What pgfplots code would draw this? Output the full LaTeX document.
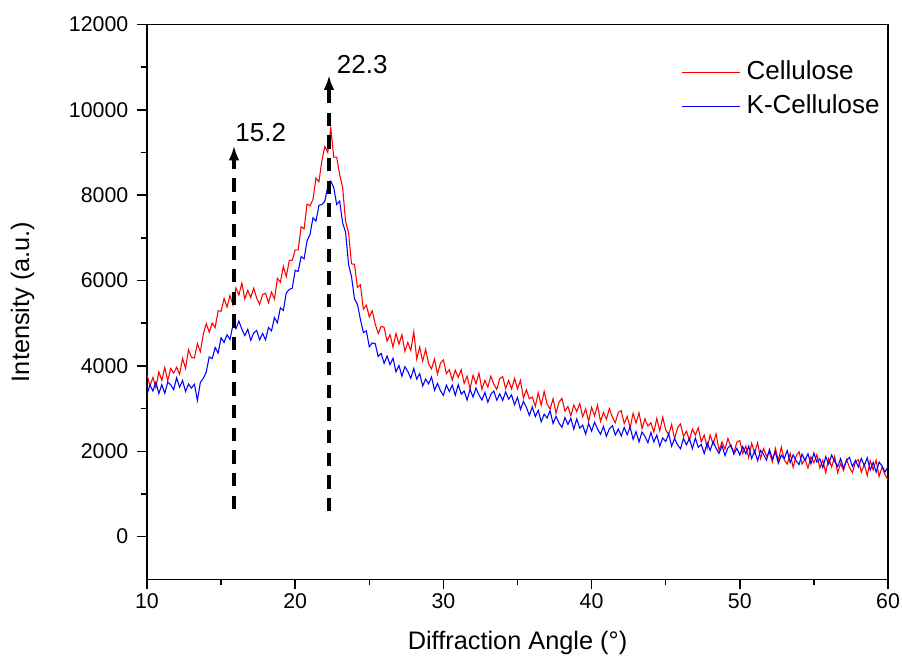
\documentclass[border=0pt]{standalone}
\usepackage{fontspec}
\setmainfont{Liberation Sans}
\usepackage{pgfplots}
\pgfplotsset{compat=1.18}
\usepackage{pgfplotstable}
\usetikzlibrary{arrows.meta}
\pgfplotstableread{
x c k
10.0 3800 3330
10.2 3530 3556
10.4 3730 3412
10.6 3490 3618
10.8 3860 3354
11.0 3660 3560
11.2 3960 3356
11.4 3650 3622
11.6 3940 3558
11.8 3830 3444
12.0 3970 3720
12.2 3803 3500
12.4 4177 3660
12.6 3940 3400
12.8 4380 3575
13.0 4200 3480
13.2 4185 3570
13.4 4520 3190
13.6 4333 3613
13.8 4747 3707
14.0 4990 3860
14.2 4790 4210
14.4 5000 4170
14.6 4900 4430
14.8 5290 4300
15.0 5280 4660
15.2 5580 4550
15.4 5380 4730
15.6 5650 4620
15.8 5430 4960
16.0 5830 4870
16.2 5660 5050
16.4 5940 4860
16.6 5570 4710
16.8 5770 4860
17.0 5600 4600
17.2 5820 4770
17.4 5590 4830
17.6 5440 4610
17.8 5670 4760
18.0 5700 4610
18.2 5480 4900
18.4 5730 4820
18.6 5570 5130
18.8 6050 5010
19.0 5960 5360
19.2 6330 5300
19.4 6090 5710
19.6 6470 5790
19.8 6470 5820
20.0 6720 6240
20.2 6720 6210
20.4 7260 6560
20.6 7210 6510
20.8 7790 6930
21.0 7750 7080
21.2 7900 7470
21.4 8400 7390
21.6 8310 7760
21.8 8810 7780
22.0 9140 7860
22.2 9000 8210
22.4 9580 8330
22.6 8890 8180
22.8 8890 7780
23.0 8480 7860
23.2 8180 7350
23.4 7380 7130
23.6 7120 6380
23.8 6390 6090
24.0 6380 5570
24.2 5840 5440
24.4 5900 5090
24.6 5330 4780
24.8 5425 4820
25.0 5150 4450
25.2 5290 4540
25.4 4980 4520
25.6 4760 4220
25.8 4930 4290
26.0 4900 4060
26.2 4580 4230
26.4 4730 4030
26.6 4440 4180
26.8 4760 3860
27.0 4510 4010
27.2 4730 3760
27.4 4340 3980
27.6 4550 3870
27.8 4360 3710
28.0 4800 3940
28.2 4160 3690
28.4 4440 3820
28.6 4110 3530
28.8 4390 3690
29.0 4050 3580
29.2 3930 3740
29.4 4160 3430
29.6 3810 3590
29.8 4060 3420
30.0 4140 3310
30.2 3820 3550
30.4 3910 3400
30.6 3670 3550
30.8 3900 3310
31.0 3730 3560
31.2 3910 3340
31.4 3590 3410
31.6 3760 3200
31.8 3460 3450
32.0 3780 3270
32.2 3580 3480
32.4 3830 3320
32.6 3450 3200
32.8 3660 3380
33.0 3500 3150
33.2 3760 3336
33.4 3570 3412
33.6 3450 3198
33.8 3700 3344
34.0 3750 3190
34.2 3470 3390
34.4 3660 3220
34.6 3460 3320
34.8 3710 3090
35.0 3460 3260
35.2 3660 2980
35.4 3250 3170
35.6 3440 3030
35.8 3230 2840
36.0 3270 3040
36.2 3050 2810
36.4 3370 2960
36.6 3080 2690
36.8 3400 2870
37.0 3100 2780
37.2 2990 2950
37.4 3230 2650
37.6 2890 2820
37.8 3150 2660
38.0 3240 2560
38.2 2940 2790
38.4 3050 2630
38.6 2830 2770
38.8 3080 2520
39.0 2930 2760
39.2 3120 2540
39.4 2810 2610
39.6 2990 2400
39.8 2700 2650
40.0 3030 2470
40.2 2830 2680
40.4 3080 2520
40.6 2700 2400
40.8 2910 2580
41.0 2750 2350
41.2 3000 2530
41.4 2800 2600
41.6 2670 2380
41.8 2910 2520
42.0 2950 2360
42.2 2650 2560
42.4 2820 2390
42.6 2550 2570
42.8 2890 2280
43.0 2660 2460
43.2 2900 2220
43.4 2530 2450
43.6 2760 2350
43.8 2590 2200
44.0 2670 2440
44.2 2450 2220
44.4 2770 2380
44.6 2480 2120
44.8 2800 2310
45.0 2500 2230
45.2 2390 2410
45.4 2630 2120
45.6 2290 2300
45.8 2550 2150
46.0 2640 2060
46.2 2350 2300
46.4 2470 2150
46.6 2260 2300
46.8 2520 2060
47.0 2380 2310
47.2 2550 2090
47.4 2220 2160
47.6 2380 1950
47.8 2070 2200
48.0 2380 2020
48.2 2170 2230
48.4 2410 2070
48.6 2020 1950
48.8 2220 2130
49.0 2050 1900
49.2 2300 2080
49.4 2100 2150
49.6 1970 1930
49.8 2210 2070
50.0 2250 1910
50.2 1950 2110
50.4 2120 1940
50.6 1850 2120
50.8 2190 1830
51.0 1960 2010
51.2 2200 1780
51.4 1830 2020
51.6 2060 1930
51.8 1890 1790
52.0 1970 2040
52.2 1750 1820
52.4 2070 1980
52.6 1780 1720
52.8 2100 1910
53.0 1800 1830
53.2 1700 2016
53.4 1950 1732
53.6 1620 1918
53.8 1890 1774
54.0 1990 1690
54.2 1700 1934
54.4 1820 1788
54.6 1610 1942
54.8 1870 1706
55.0 1730 1960
55.2 1920 1746
55.4 1610 1822
55.6 1790 1618
55.8 1500 1874
56.0 1830 1700
56.2 1630 1914
56.4 1880 1758
56.6 1500 1642
56.8 1710 1826
57.0 1550 1600
57.2 1810 1784
57.4 1620 1858
57.6 1500 1642
57.8 1750 1786
58.0 1800 1630
58.2 1510 1832
58.4 1690 1664
58.6 1430 1846
58.8 1780 1558
59.0 1560 1740
59.2 1790 1508
59.4 1410 1746
59.6 1630 1654
59.8 1450 1512
60.0 1330 1640
}\xrd
\newcommand{\tickfont}{\fontsize{16}{19}\selectfont}
\newcommand{\labfont}{\fontsize{19}{22}\selectfont}
\newcommand{\legfont}{\fontsize{19.5}{22}\selectfont}
\begin{document}
\begin{tikzpicture}
\begin{axis}[
  scale only axis,
  width=555.75pt, height=416.2pt,
  xmin=10, xmax=60, ymin=-1000, ymax=12000,
  xtick={10,20,30,40,50,60},
  ytick={0,2000,4000,6000,8000,10000,12000},
  scaled ticks=false,
  minor x tick num=1, minor y tick num=1,
  tick align=outside, xtick pos=left, ytick pos=left,
  major tick length=7.5pt, minor tick length=4.5pt,
  axis line style={line width=1.1pt},
  every tick/.style={black, line width=1.1pt},
  /pgf/number format/1000 sep={},
  /pgf/number format/assume math mode=true,
  tick label style={font=\tickfont},
  yticklabel style={xshift=-3pt},
  xlabel={Diffraction Angle (°)},
  ylabel={Intensity (a.u.)},
  xlabel style={font=\labfont, at={(axis description cs:0.5,-0.114)}, anchor=center},
  ylabel style={font=\labfont, at={(axis description cs:-0.168,0.5)}, anchor=center},
  legend style={at={(axis description cs:0.7206,0.9346)}, anchor=north west,
    draw=none, fill=none, inner sep=0pt, outer sep=0pt,
    column sep=4.5pt, row sep=7.5pt, font=\legfont,
    nodes={inner sep=0pt, text height=14pt, text depth=4pt}},
  legend cell align=left,
  legend image code/.code={\draw[#1, line width=0.8pt] (0pt,0pt) -- (44pt,0pt);},
]
\addplot[red, line width=0.8pt] table[x=x, y=c] {\xrd};
\addlegendentry{Cellulose}
\addplot[blue, line width=0.8pt] table[x=x, y=k] {\xrd};
\addlegendentry{K-Cellulose}
\addplot[forget plot, black, line width=2.5pt, dash pattern=on 10pt off 7pt,
  -{Latex[length=11pt,width=8pt]}] coordinates {(15.87,650) (15.87,9160)};
\addplot[forget plot, black, line width=2.5pt, dash pattern=on 10pt off 7pt,
  -{Latex[length=11pt,width=8pt]}] coordinates {(22.28,590) (22.28,10810)};
\node[anchor=west, inner sep=0pt, font=\legfont] at (axis cs:15.95,9470) {15.2};
\node[anchor=west, inner sep=0pt, font=\legfont] at (axis cs:22.8,11050) {22.3};
\end{axis}
\pgfresetboundingbox
\useasboundingbox ([shift={(-110.25pt,-60.75pt)}]current axis.south west) rectangle ([shift={(10.5pt,18.3pt)}]current axis.north east);
\end{tikzpicture}
\end{document}
